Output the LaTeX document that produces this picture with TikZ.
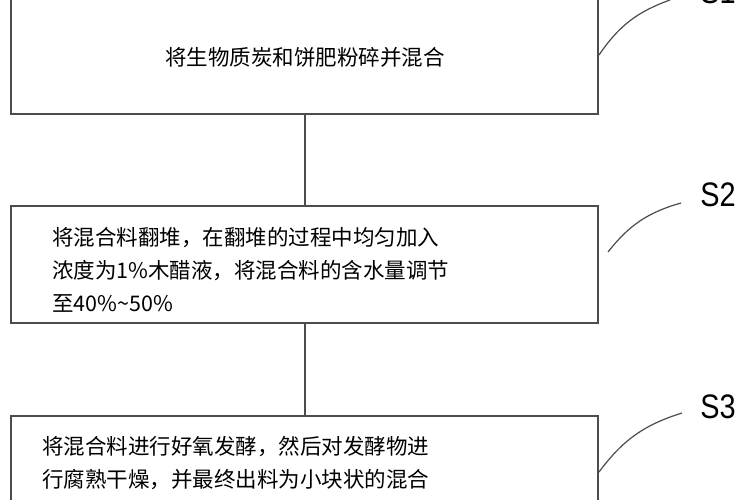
\documentclass[tikz,border=0pt]{standalone}
\usepackage{fontspec}
\newfontfamily\cjk{Noto Sans CJK SC}
\newfontfamily\lab{Liberation Sans}
\begin{document}
\begin{tikzpicture}[x=1pt,y=-1pt,
  box/.style={draw=black!70,line width=1.3pt},
  ln/.style={draw=black!70,line width=1.2pt},
  txt/.style={font=\cjk\fontsize{21.5}{33}\selectfont,anchor=west,inner sep=0pt},
  lbl/.style={font=\lab\fontsize{34}{34}\selectfont,inner sep=0pt,xscale=0.85}]
\useasboundingbox (0,0) rectangle (750,500);
\clip (0,0) rectangle (750,500);
\fill[white] (0,0) rectangle (750,500);
\draw[box] (11,-10) rectangle (598,114);
\draw[box] (11,206) rectangle (598,323);
\draw[box] (11,416) rectangle (598,560);
\coordinate (b1) at (305,114); \coordinate (t2) at (305,206);
\coordinate (b2) at (305,323); \coordinate (t3) at (305,416);
\draw[ln] (b1) -- (t2);
\draw[ln] (b2) -- (t3);
\node[txt,anchor=center] (n1) at (305,57) {将生物质炭和饼肥粉碎并混合};
\node[txt] (n2a) at (52,238) {将混合料翻堆，在翻堆的过程中均匀加入};
\node[txt] (n2b) at (52,271) {浓度为1\%木醋液，将混合料的含水量调节};
\node[txt] (n2c) at (52,304) {至40\%\textasciitilde 50\%};
\node[txt] (n3a) at (42,447) {将混合料进行好氧发酵，然后对发酵物进};
\node[txt] (n3b) at (42,480) {行腐熟干燥，并最终出料为小块状的混合};
\node[txt] (n3c) at (42,513) {物料};
\node[lbl] (s1) at (718,-8) {S1};
\node[lbl] (s2) at (718,195) {S2};
\node[lbl] (s3) at (718,407) {S3};
\coordinate (c1) at (599,55); \coordinate (e1) at (670,0);
\coordinate (c2) at (608,252); \coordinate (e2) at (681,203);
\coordinate (c3) at (599,472); \coordinate (e3) at (682,413);
\draw[ln] (c1) to[bend left=18] (e1);
\draw[ln] (c2) to[bend left=18] (e2);
\draw[ln] (c3) to[bend left=18] (e3);
\end{tikzpicture}
\end{document}
